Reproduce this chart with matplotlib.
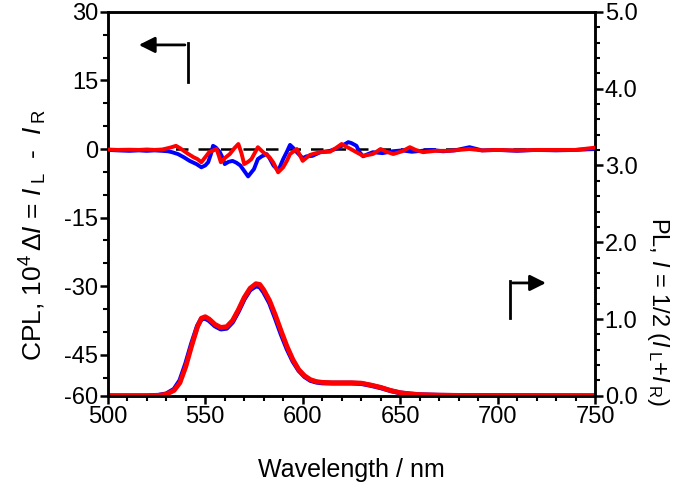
import matplotlib
matplotlib.use("Agg")
import matplotlib.pyplot as plt
from matplotlib.ticker import MultipleLocator, FixedLocator, FixedFormatter

plt.rcParams['font.family'] = ['Liberation Sans', 'DejaVu Sans']
plt.rcParams['mathtext.fontset'] = 'custom'
plt.rcParams['mathtext.rm'] = 'Liberation Sans'
plt.rcParams['mathtext.it'] = 'Liberation Sans:italic'

# ---- CPL data (left axis, 10^4 ΔI) ----
blue_wl = [500, 505, 511, 516, 520, 524, 528, 531, 533, 536, 539, 542, 545.5, 548, 550, 551.5, 553, 554, 555.5, 557.5, 559, 560, 562, 564, 566, 568, 570, 572, 573.5, 575, 577,
           579, 581.5, 583, 585, 587.5, 590, 592, 593.5, 595, 597, 600, 602, 605, 609, 614, 618, 621, 623.4, 625, 627.6, 629, 631, 633, 636, 641, 646, 651, 656,
           661, 666, 672, 678, 685.6, 692, 700, 710, 720, 730, 740, 750]
blue_cpl = [-0.2, -0.3, -0.4, -0.3, -0.4, -0.3, -0.4, -0.5, -0.7, -1.1, -1.8, -2.6, -3.3, -4.0, -3.6, -2.9, -1.0, 0.7, 0.3, -0.7, -2.0, -3.3, -2.8, -2.6, -3.0, -3.6, -4.8, -6.0, -5.2, -4.4, -2.2,
            -1.6, -1.1, -2.0, -3.6, -4.7, -2.2, -0.5, 0.9, 0.3, -0.7, -2.0, -1.6, -1.5, -0.7, -0.4, 0.2, 0.9, 1.5, 1.3, 0.7, -0.6, -1.6, -1.2, -0.7, -0.9, -0.5, -0.3, -0.6,
            -0.4, -0.2, -0.5, -0.3, 0.4, -0.3, -0.2, -0.4, -0.2, -0.3, -0.2, 0.0]
red_wl = [500, 505, 511, 516, 520, 524, 528, 532, 535, 537, 539, 541, 544, 546, 548, 550, 552, 555.8, 557, 558, 560, 562.6, 565, 567, 568.5, 570, 572, 573.7, 575.5, 577, 579.7, 583, 585, 587.4, 590,
          592, 593.5, 597, 600, 603.7, 606, 609, 614, 617, 620, 622, 624, 628, 631, 636, 640, 643, 646.5, 651, 655, 658, 661.8, 668, 675, 685.6, 692, 700, 710,
          720, 730, 740, 750]
red_cpl = [-0.1, -0.2, -0.15, -0.2, -0.1, -0.2, -0.1, 0.3, 0.7, 0.2, -0.4, -1.0, -1.8, -2.2, -2.9, -1.8, -0.7, 0.0, -1.5, -2.9, -2.0, -1.1, 0.2, 1.1, -0.8, -3.3, -2.8, -2.2, -0.8, 0.4, -0.7, -1.8, -3.0, -5.1, -4.0,
           -2.5, -1.1, 0.0, -2.6, -1.3, -1.0, -0.7, -0.6, 0.2, 1.1, 0.6, 0.15, -0.8, -1.5, -1.1, 0.0, -0.6, -1.1, -0.5, 0.4, -0.2, -0.7, -0.4, -0.4, 0.0, -0.3, -0.2, -0.3,
           -0.2, -0.2, -0.2, 0.3]

# ---- PL data (right axis) ----
pl_wl = [500, 520, 526, 530, 534, 537, 540, 543, 546, 548, 550, 552, 555, 558, 561, 564, 567, 570, 573, 576, 578, 580, 583, 586,
         589, 592, 595, 598, 601, 604, 607, 610, 615, 620, 625, 630, 635, 640, 645, 650, 655, 660, 670, 680, 700, 750]
pl_red = [0.0, 0.0, 0.005, 0.02, 0.07, 0.17, 0.38, 0.65, 0.90, 1.01, 1.03, 1.00, 0.93, 0.89, 0.90, 0.98, 1.12, 1.28, 1.40, 1.46, 1.45, 1.38, 1.24, 1.05,
          0.84, 0.64, 0.47, 0.34, 0.26, 0.21, 0.185, 0.175, 0.17, 0.17, 0.17, 0.165, 0.14, 0.11, 0.07, 0.04, 0.025, 0.015, 0.008, 0.005, 0.002, 0.0]
pl_blue = [0.0, 0.0, 0.007, 0.025, 0.085, 0.2, 0.42, 0.68, 0.91, 1.00, 1.01, 0.98, 0.91, 0.87, 0.88, 0.96, 1.10, 1.26, 1.38, 1.43, 1.42, 1.35, 1.21, 1.01,
           0.80, 0.61, 0.45, 0.33, 0.25, 0.2, 0.178, 0.168, 0.165, 0.165, 0.165, 0.16, 0.135, 0.105, 0.067, 0.038, 0.024, 0.014, 0.007, 0.004, 0.002, 0.0]

left_ticks = [30, 15, 0, -15, -30, -45, -54]
left_labels = ["30", "15", "0", "-15", "-30", "-45", "-60"]
right_ticks = [0, 1, 2, 3, 4, 5]
right_labels = ["0.0", "1.0", "2.0", "3.0", "4.0", "5.0"]
x_ticks = [500, 550, 600, 650, 700, 750]

fig = plt.figure(figsize=(7.0, 4.96), dpi=100)
ax = fig.add_axes([0.154, 0.202, 0.696, 0.774])
ax2 = ax.twinx()

ax.set_zorder(ax2.get_zorder() + 1)
ax.patch.set_visible(False)

ax.axhline(0, color='black', lw=1.8, ls=(0, (5, 4)), zorder=1)
ax.plot(blue_wl, blue_cpl, color='#0000ff', lw=2.8, zorder=2)
ax.plot(red_wl, red_cpl, color='#ff0000', lw=2.8, zorder=3)

ax2.plot(pl_wl, pl_blue, color='#0000ff', lw=3.5)
ax2.plot(pl_wl, pl_red, color='#ff0000', lw=3.5)

ax.set_xlim(500, 750)
ax.set_ylim(-54, 30)
ax2.set_ylim(0, 5)

ax.xaxis.set_major_locator(FixedLocator(x_ticks))
ax.xaxis.set_minor_locator(MultipleLocator(10))
ax.yaxis.set_major_locator(FixedLocator(left_ticks))
ax.yaxis.set_major_formatter(FixedFormatter(left_labels))
ax.yaxis.set_minor_locator(MultipleLocator(5))
ax2.yaxis.set_major_locator(FixedLocator(right_ticks))
ax2.yaxis.set_major_formatter(FixedFormatter(right_labels))
ax2.yaxis.set_minor_locator(MultipleLocator(0.2))

for a in (ax, ax2):
    for s in a.spines.values():
        s.set_linewidth(1.8)
ax.tick_params(axis='both', which='major', direction='out', length=6, width=1.8, labelsize=17, pad=1)
ax.tick_params(axis='both', which='minor', direction='out', length=3.5, width=1.5)
ax2.tick_params(axis='y', which='major', direction='out', length=6, width=1.8, labelsize=17, pad=1)
ax2.tick_params(axis='y', which='minor', direction='out', length=3.5, width=1.5)

ax.set_xlabel("Wavelength / nm", fontsize=18, labelpad=22)
ax.set_ylabel(r"CPL, 10$^4$$\,\Delta$$I$ = $I$$_{\;\mathrm{L}}$  -  $I$$_{\;\mathrm{R}}$", fontsize=19)
ax.yaxis.set_label_coords(-0.12, 0.42)
ax2.set_ylabel(r"PL, $I$ = 1/2 ($I$$_{\;\mathrm{L}}$+$I$$_{\;\mathrm{R}}$)", fontsize=17, rotation=270)
ax2.yaxis.set_label_coords(1.155, 0.22)

# direction arrows
ax.annotate("", xy=(0.058, 0.914), xytext=(0.164, 0.914), xycoords='axes fraction',
            arrowprops=dict(arrowstyle='-|>', color='black', lw=2, mutation_scale=24))
ax.plot([0.164, 0.164], [0.818, 0.918], color='black', lw=2, transform=ax.transAxes, clip_on=False)
ax.annotate("", xy=(0.905, 0.294), xytext=(0.825, 0.294), xycoords='axes fraction',
            arrowprops=dict(arrowstyle='-|>', color='black', lw=2, mutation_scale=24))
ax.plot([0.825, 0.825], [0.203, 0.298], color='black', lw=2, transform=ax.transAxes, clip_on=False)

fig.savefig("out.png", dpi=100)
